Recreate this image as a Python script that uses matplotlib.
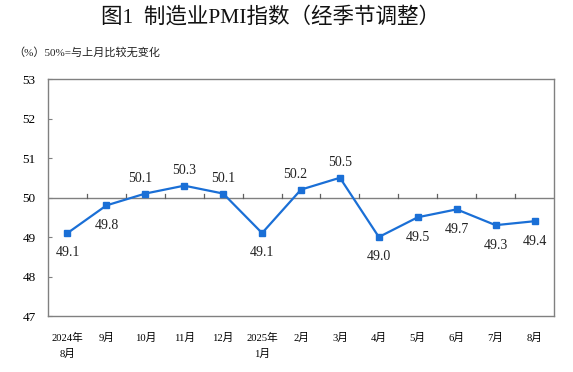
import matplotlib
matplotlib.use("Agg")
import matplotlib.pyplot as plt

months = ["2024年\n8月", "9月", "10月", "11月", "12月", "2025年\n1月", "2月",
          "3月", "4月", "5月", "6月", "7月", "8月"]
pmi = [49.1, 49.8, 50.1, 50.3, 50.1, 49.1, 50.2, 50.5, 49.0, 49.5, 49.7, 49.3, 49.4]
label_pos = ["below", "below", "above", "above", "above", "below", "above",
             "above", "below", "below", "below", "below", "below"]
yticks = [47, 48, 49, 50, 51, 52, 53]

serif_cjk = ["Liberation Serif", "Noto Sans CJK SC", "DejaVu Sans"]
plt.rcParams["font.family"] = serif_cjk

fig = plt.figure(figsize=(5.73, 3.72), dpi=100)
ax = fig.add_axes([0.0838, 0.1505, 0.8830, 0.6371])

x = list(range(len(pmi)))
ax.plot(x, pmi, color="#1a6fd6", lw=1.6, marker="s", ms=5, zorder=3)

ax.set_xlim(-0.5, len(pmi) - 0.5)
ax.set_ylim(47, 53)
ax.set_yticks(yticks)
ax.set_yticklabels([str(v) for v in yticks], fontsize=9.5)
ax.tick_params(axis="y", direction="in", length=3, color="#808080", pad=9)
ax.set_xticks(x)
ax.set_xticklabels(months, fontsize=7.7, linespacing=1.7)
ax.tick_params(axis="x", length=0, pad=12)

for s in ax.spines.values():
    s.set_color("#808080")
    s.set_linewidth(1.0)

ax.axhline(50, color="#808080", lw=1.0, zorder=2)
for k in range(len(pmi) - 1):
    ax.plot([k + 0.5, k + 0.5], [50, 50.08], color="#606060", lw=0.9, zorder=2)

for xi, v, p in zip(x, pmi, label_pos):
    dx = 0
    if xi in (2, 6):
        dx = -0.14
    if p == "above":
        ax.text(xi + dx, v + 0.22, f"{v:.1f}", ha="center", va="bottom",
                fontsize=10, color="#222222")
    else:
        ax.text(xi + dx, v - 0.34, f"{v:.1f}", ha="center", va="top",
                fontsize=10, color="#222222")

fig.text(0.472, 0.955, "图1  制造业PMI指数（经季节调整）", ha="center", va="center",
         fontsize=15.5, fontweight="medium", family=serif_cjk, color="#111111")
fig.text(0.024, 0.858, "（%）50%=与上月比较无变化", ha="left", va="center",
         fontsize=8, family=serif_cjk, color="#222222")

fig.savefig("out.png", dpi=100)
